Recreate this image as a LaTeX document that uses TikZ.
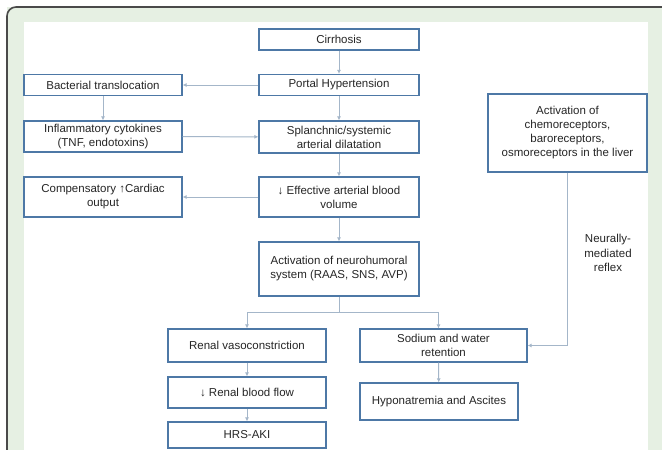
\documentclass[tikz,border=0pt]{standalone}
\usepackage{fontspec}
\setmainfont{Liberation Sans}
\usetikzlibrary{positioning,arrows.meta}
\definecolor{rub}{HTML}{4D78A6}
\definecolor{veza}{HTML}{A4B6C9}
\definecolor{okvir}{HTML}{4A4A4A}
\definecolor{pozadina}{HTML}{E6F0E3}

\begin{document}
\begin{tikzpicture}[x=1pt,y=-1pt,
  box/.style={rectangle, draw=rub, fill=white, line width=1.2pt, align=center,
              inner sep=2pt, font=\fontsize{11.5}{14}\selectfont, text=black!85},
  link/.style={draw=veza, line width=1pt, -{Latex[length=4pt,width=4pt]}},
  lbl/.style={align=center, font=\fontsize{11.5}{14.5}\selectfont, text=black!85}
]
\useasboundingbox (0,0) rectangle (662,450);
% frame
\fill[pozadina] (7,7) rectangle (662,450);
\fill[white] (24,22) rectangle (648,450);
\draw[okvir, line width=1.6pt, rounded corners=9pt] (7,450) -- (7,7) -- (662,7);

% main column
\node[box, minimum width=160pt, minimum height=21pt] (cir) at (339,39.5) {Cirrhosis};
\node[box, minimum width=160pt, minimum height=21pt] (portal) at (339,85) {Portal Hypertension};
\node[box, minimum width=160pt, minimum height=32pt] (splan) at (339,137) {Splanchnic/systemic\\arterial dilatation};
\node[box, minimum width=160pt, minimum height=40pt] (eff) at (339,197) {↓ Effective arterial blood\\volume};
\node[box, minimum width=160pt, minimum height=54pt] (neuro) at (339,269) {Activation of neurohumoral\\system (RAAS, SNS, AVP)};

% left column
\node[box, minimum width=158pt, minimum height=21pt] (bact) at (103,85) {Bacterial translocation};
\node[box, minimum width=158pt, minimum height=31pt] (infl) at (103,136.5) {Inflammatory cytokines\\(TNF, endotoxins)};
\node[box, minimum width=158pt, minimum height=40pt] (comp) at (103,197) {Compensatory ↑Cardiac\\output};

% right
\node[box, minimum width=159pt, minimum height=78pt] (chemo) at (567.5,133) {Activation of\\chemoreceptors,\\baroreceptors,\\osmoreceptors in the liver};
\node[lbl] (reflex) at (608,253) {Neurally-\\mediated\\reflex};

% lower branches
\node[box, minimum width=158pt, minimum height=33pt] (renal) at (247,345.5) {Renal vasoconstriction};
\node[box, minimum width=158pt, minimum height=31pt] (rbf) at (247,392.5) {↓ Renal blood flow};
\node[box, minimum width=158pt, minimum height=26pt] (hrs) at (247,435) {HRS-AKI};
\node[box, minimum width=167pt, minimum height=33pt] (sodium) at (443.5,345.5) {Sodium and water\\retention};
\node[box, minimum width=158pt, minimum height=37pt] (hypo) at (439,401.5) {Hyponatremia and Ascites};

\coordinate (split) at (339,312);

% connectors
\draw[link] (cir) -- (portal);
\draw[link] (portal) -- (splan);
\draw[link] (splan) -- (eff);
\draw[link] (eff) -- (neuro);
\draw[link] (portal) -- (bact);
\draw[link] (bact) -- (infl);
\draw[link] (infl) -- (splan);
\draw[link] (eff) -- (comp);
\draw[draw=veza, line width=1pt] (neuro) -- (split);
\draw[link] (split) -| (renal.north);
\draw[link] (split) -| ([xshift=-5pt]sodium.north);
\draw[link] (renal) -- (rbf);
\draw[link] (rbf) -- (hrs);
\draw[link] ([xshift=-5pt]sodium.south) -- (hypo);
\draw[link] (chemo.south) |- (sodium.east);
\end{tikzpicture}
\end{document}
